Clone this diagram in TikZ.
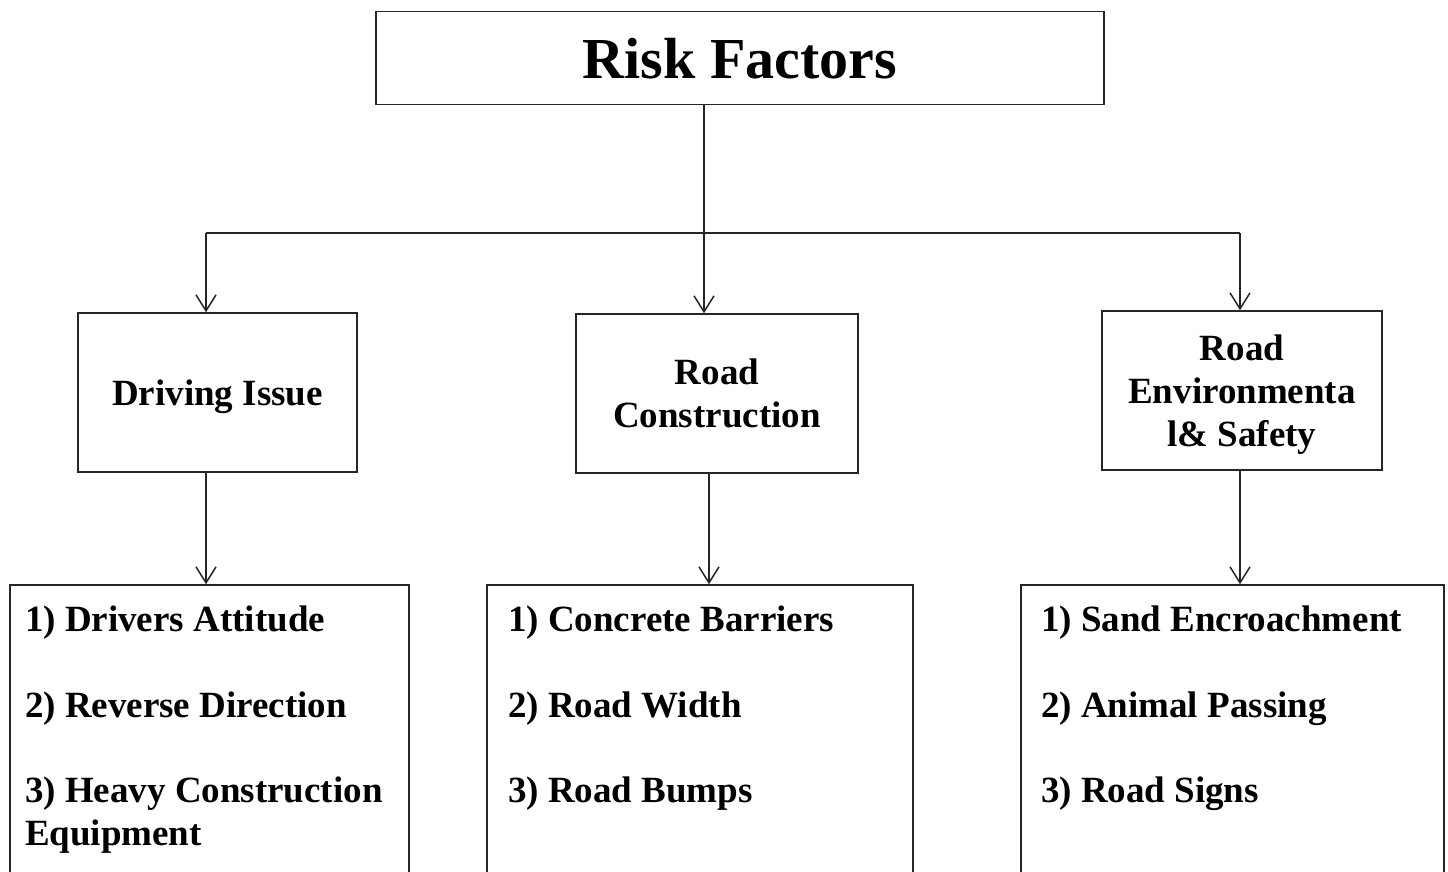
\documentclass[tikz,border=0pt]{standalone}
\usepackage{fontspec}
\setmainfont{Liberation Serif}
\usepackage{tikz}
\usetikzlibrary{arrows.meta}
\usetikzlibrary{positioning}
\usetikzlibrary{calc}

\begin{document}
\begin{tikzpicture}[x=1pt,y=1pt,line width=1.5pt,
  box/.style={draw=black!85,inner sep=0pt,align=center,text depth=0pt,
    font=\fontsize{37}{42.7}\selectfont\bfseries},
  listtxt/.style={inner sep=0pt,align=left,anchor=north west,
    font=\fontsize{37}{42.7}\selectfont\bfseries},
  arr/.style={draw=black!85,-{Straight Barb[length=16pt,width=20pt]}}]

  \clip (0,0) rectangle (1448,-871);

  \node[box,minimum width=728,minimum height=93,
    font=\fontsize{58}{64}\selectfont\bfseries] at (740,-58) (risk) {Risk Factors};

  \node[box,minimum width=279,minimum height=159] at (217.5,-392.5) (drive) {Driving Issue};
  \node[box,minimum width=282,minimum height=159] at (717,-393.5) (road) {Road\\Construction};
  \node[box,minimum width=280,minimum height=159] at (1242,-390.5) (env) {Road\\Environmenta\\l\& Safety};

  \node[box,minimum width=399,minimum height=315] at (209.5,-742.5) (list1) {};
  \node[box,minimum width=426,minimum height=315] at (700,-742.5) (list2) {};
  \node[box,minimum width=423,minimum height=315] at (1232.5,-742.5) (list3) {};

  \node[listtxt] at ([shift={(15,-21)}]list1.north west) (txt1)
    {1) Drivers Attitude\\[42.7pt]2) Reverse Direction\\[42.7pt]3) Heavy Construction\\Equipment};
  \node[listtxt] at ([shift={(21,-21)}]list2.north west) (txt2)
    {1) Concrete Barriers\\[42.7pt]2) Road Width\\[42.7pt]3) Road Bumps};
  \node[listtxt] at ([shift={(20,-21)}]list3.north west) (txt3)
    {1) Sand Encroachment\\[42.7pt]2) Animal Passing\\[42.7pt]3) Road Signs};

  % branching lines
  \coordinate (hub) at (704,-233);
  \coordinate (jl) at (206,-233);
  \coordinate (jr) at (1240,-233);
  \draw[black!85] ([yshift=1.5]risk.south -| hub) -- (hub);
  \draw[black!85] (jl) -- (jr);
  \draw[arr] (jl) -- (jl |- drive.north);
  \draw[arr] (hub) -- (hub |- road.north);
  \draw[arr] (jr) -- (jr |- env.north);

  \draw[arr] (drive.south -| jl) -- (jl |- list1.north);
  \draw[arr] ([xshift=-8]road.south) -- ([xshift=-8]road.south |- list2.north);
  \draw[arr] (env.south -| jr) -- (jr |- list3.north);

\end{tikzpicture}
\end{document}
